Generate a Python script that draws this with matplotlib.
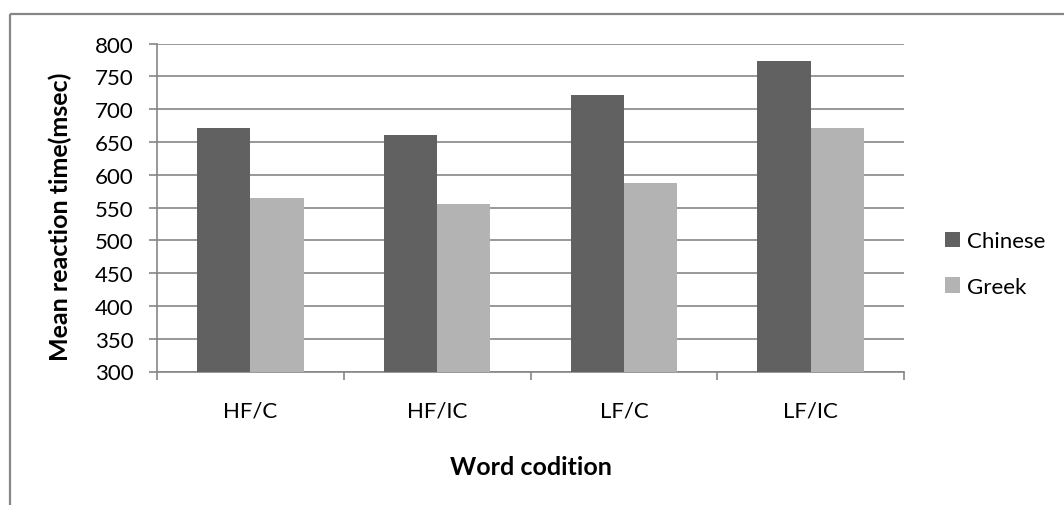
import matplotlib
matplotlib.use("Agg")
import matplotlib.pyplot as plt
import numpy as np
from matplotlib.lines import Line2D

# Mean reaction times (msec) per word condition
conditions = ["HF/C", "HF/IC", "LF/C", "LF/IC"]
series_names = ["Chinese", "Greek"]
chinese = [671, 661, 722, 774]
greek = [565, 555, 588, 671]
y_ticks = [300, 350, 400, 450, 500, 550, 600, 650, 700, 750, 800]

colors = ["#616161", "#b3b3b3"]
grid_col = "#868686"
fs = 16
title_fs = 18

plt.rcParams["font.family"] = ["Lato", "DejaVu Sans"]

W, H = 1064, 506
fig = plt.figure(figsize=(W / 100, H / 100), dpi=100)
fig.patch.set_facecolor("white")

# outer chart border (runs off the right and bottom edges)
bx, by = 10 / W, 1 - 15 / H
fig.add_artist(Line2D([bx, 1.0], [by, by], transform=fig.transFigure,
                      color=grid_col, lw=1.6, solid_capstyle="butt"))
fig.add_artist(Line2D([bx, bx], [by, 0.0], transform=fig.transFigure,
                      color=grid_col, lw=1.6, solid_capstyle="butt"))

ax = fig.add_axes([157 / W, 1 - 372.5 / H, (904 - 157) / W, (372.5 - 44.7) / H])

x = np.arange(len(conditions))
bw = 0.2857
for i, (vals, name) in enumerate(zip([chinese, greek], series_names)):
    offset = (i - 0.5) * bw
    base = y_ticks[0]
    ax.bar(x + offset, np.array(vals) - base, bw, bottom=base,
           color=colors[i], label=name, zorder=3, linewidth=0)

ax.set_ylim(y_ticks[0], y_ticks[-1])
ax.set_xlim(-0.5, len(conditions) - 0.5)
ax.set_yticks(y_ticks)
ax.yaxis.grid(True, color=grid_col, lw=1.2, zorder=0)
ax.set_axisbelow(True)

# category boundaries carry the tick marks; names sit on minor ticks
ax.set_xticks(np.arange(-0.5, len(conditions)))
ax.set_xticklabels([])
ax.set_xticks(x, minor=True)
ax.set_xticklabels(conditions, minor=True)
ax.tick_params(axis="x", which="major", direction="out", length=6,
               width=1.2, color=grid_col)
ax.tick_params(axis="x", which="minor", length=0, pad=21, labelsize=fs)
ax.tick_params(axis="y", direction="out", length=6, width=1.2,
               color=grid_col, pad=11, labelsize=fs)

for s in ["top", "right"]:
    ax.spines[s].set_visible(False)
for s in ["left", "bottom"]:
    ax.spines[s].set_color(grid_col)
    ax.spines[s].set_linewidth(1.2)

ax.set_xlabel("Word codition", fontsize=title_fs, fontweight="bold")
ax.xaxis.set_label_coords(0.5, -0.255)
ax.set_ylabel("Mean reaction time(msec)", fontsize=title_fs, fontweight="bold")
ax.yaxis.set_label_coords(-0.114, 0.476)

ax.legend(loc="center left", bbox_to_anchor=(945 / W, 1 - 265 / H),
          bbox_transform=fig.transFigure, frameon=False, fontsize=fs,
          handlelength=0.68, handleheight=0.68, handletextpad=0.3,
          labelspacing=1.15, borderpad=0, borderaxespad=0)

fig.savefig("out.png", dpi=100, facecolor="white")
